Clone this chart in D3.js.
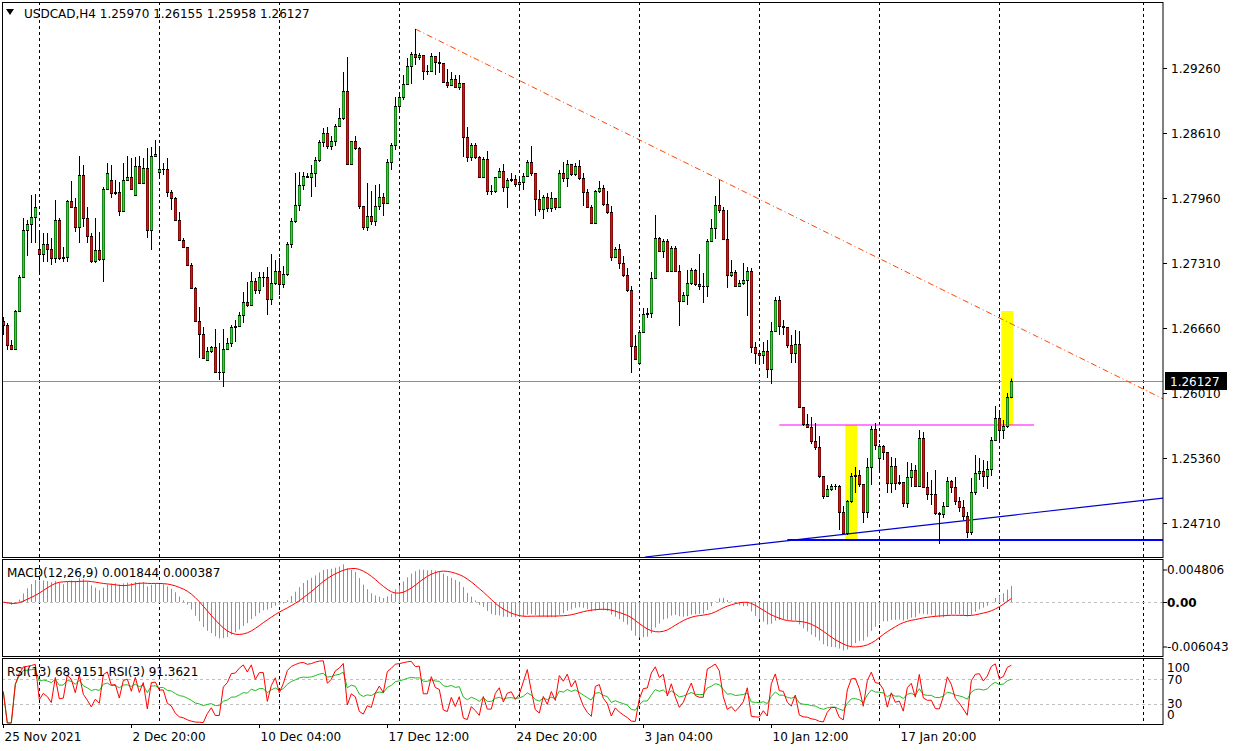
<!DOCTYPE html>
<html><head><meta charset="utf-8">
<script src="https://cdn.jsdelivr.net/npm/d3@7"></script>
<style>body{margin:0;background:#fff}svg{display:block}text{font-family:"DejaVu Sans",sans-serif;font-size:12px}</style>
</head><body><svg id="c" width="1235" height="751"></svg>
<script>
// prices in pips above 1.0000 (e.g. 2669 = 1.2669)
const closePips = [2669,2649,2645,2683,2717,2764,2770,2777,2787,2740,2750,2745,2736,2774,2736,2737,2793,2787,2767,2819,2776,2758,2733,2744,2735,2805,2821,2801,2802,2783,2814,2817,2805,2828,2811,2826,2764,2838,2840,2825,2825,2802,2796,2774,2754,2747,2729,2706,2673,2660,2636,2643,2647,2622,2622,2645,2651,2667,2668,2679,2692,2689,2713,2704,2717,2717,2695,2711,2723,2710,2720,2750,2773,2789,2809,2818,2817,2821,2834,2852,2861,2848,2853,2868,2876,2903,2830,2853,2846,2788,2767,2778,2773,2788,2797,2791,2832,2849,2888,2897,2910,2928,2940,2937,2939,2923,2923,2938,2932,2931,2912,2909,2915,2907,2911,2857,2837,2849,2837,2817,2835,2803,2803,2817,2823,2807,2814,2815,2810,2812,2818,2832,2821,2795,2785,2797,2786,2796,2787,2821,2816,2830,2820,2828,2816,2802,2787,2771,2803,2806,2790,2782,2737,2745,2731,2719,2704,2648,2635,2662,2680,2681,2716,2756,2743,2753,2723,2746,2723,2693,2699,2711,2724,2710,2708,2708,2753,2766,2789,2784,2755,2719,2722,2708,2711,2714,2723,2647,2641,2639,2643,2625,2663,2694,2668,2667,2649,2641,2650,2587,2570,2567,2553,2547,2518,2498,2505,2508,2508,2482,2461,2493,2518,2519,2510,2482,2527,2565,2549,2548,2542,2511,2528,2511,2512,2491,2517,2524,2508,2556,2507,2500,2500,2481,2480,2488,2513,2507,2493,2487,2478,2462,2502,2521,2523,2518,2525,2554,2576,2564,2568,2597,2612.7];
const highPips = [2677,2671,2654,2684,2719,2776,2774,2799,2800,2761,2761,2761,2756,2794,2776,2747,2794,2813,2796,2838,2829,2787,2761,2776,2762,2807,2831,2829,2814,2812,2831,2838,2836,2837,2838,2836,2846,2847,2854,2845,2831,2836,2804,2797,2782,2756,2747,2731,2707,2687,2667,2647,2648,2665,2651,2665,2656,2669,2674,2682,2702,2712,2722,2716,2722,2722,2727,2740,2734,2736,2728,2752,2776,2821,2822,2822,2821,2829,2837,2854,2866,2867,2858,2870,2886,2922,2937,2853,2858,2847,2788,2811,2803,2809,2810,2801,2835,2851,2897,2902,2919,2936,2942,2965,2941,2938,2929,2941,2938,2942,2931,2925,2922,2919,2919,2911,2867,2851,2851,2838,2837,2843,2809,2817,2826,2830,2816,2821,2819,2816,2821,2834,2848,2821,2804,2799,2801,2802,2796,2824,2832,2834,2829,2831,2834,2821,2805,2789,2804,2813,2809,2803,2788,2747,2750,2738,2726,2708,2659,2664,2686,2686,2722,2779,2757,2755,2755,2748,2748,2729,2702,2724,2726,2725,2740,2721,2755,2775,2798,2814,2787,2784,2734,2724,2714,2731,2727,2726,2652,2639,2652,2654,2672,2697,2698,2674,2667,2659,2664,2663,2587,2580,2577,2571,2558,2518,2509,2510,2510,2509,2488,2494,2521,2527,2524,2499,2536,2568,2571,2550,2549,2542,2537,2536,2519,2512,2532,2531,2529,2564,2562,2522,2514,2524,2482,2492,2517,2514,2517,2497,2494,2482,2516,2539,2536,2534,2533,2557,2588,2584,2574,2601,2615.5];
const lowPips = [2659,2644,2644,2644,2682,2716,2738,2751,2751,2720,2732,2732,2729,2731,2734,2732,2732,2786,2762,2751,2767,2751,2731,2731,2733,2712,2804,2796,2799,2778,2782,2814,2804,2798,2811,2810,2756,2744,2837,2816,2819,2797,2784,2773,2753,2747,2728,2705,2672,2636,2635,2634,2641,2621,2614,2607,2644,2647,2652,2667,2671,2687,2689,2700,2700,2707,2679,2689,2709,2699,2706,2718,2746,2771,2783,2804,2816,2797,2807,2832,2847,2845,2844,2848,2868,2874,2829,2829,2844,2785,2764,2763,2769,2768,2784,2778,2791,2824,2844,2882,2894,2910,2910,2929,2934,2914,2919,2924,2919,2921,2911,2906,2909,2906,2904,2837,2832,2833,2835,2816,2816,2799,2799,2801,2816,2802,2786,2812,2807,2804,2804,2817,2818,2778,2782,2775,2782,2782,2784,2786,2812,2807,2818,2818,2814,2788,2786,2770,2771,2801,2788,2780,2733,2737,2725,2717,2702,2621,2634,2629,2661,2676,2676,2716,2742,2736,2722,2723,2723,2668,2693,2689,2709,2708,2704,2691,2697,2752,2755,2781,2754,2706,2717,2707,2708,2709,2678,2641,2630,2630,2630,2616,2610,2663,2659,2659,2646,2631,2631,2586,2568,2566,2550,2544,2516,2495,2497,2503,2504,2464,2460,2459,2491,2501,2507,2471,2476,2509,2544,2524,2534,2501,2501,2504,2509,2487,2486,2507,2507,2507,2506,2494,2489,2479,2450,2476,2488,2501,2489,2482,2474,2456,2459,2499,2514,2507,2505,2518,2554,2551,2555,2566,2595.8];
const firstOpenPips = 2673;
const gapOpens = {9:2745, 27:2814, 33:2799, 39:2822, 51:2634, 159:2631, 219:2536}; // bar index -> open (pips)
const priceTicks = [1.29260,1.28610,1.27960,1.27310,1.26660,1.26010,1.25360,1.24710];
const timeLabels = ["25 Nov 2021","2 Dec 20:00","10 Dec 04:00","17 Dec 12:00","24 Dec 20:00","3 Jan 04:00","10 Jan 12:00","17 Jan 20:00"];
const timeLabelBars = [0,32,64,96,128,160,192,224];
const gridBars = [9,39,69,99,129,159,189,219,249,285];
const macdTicks = [0.004806,0,-0.006043];
const macdTickLabels = ["0.004806","0.00","-0.006043"];
const rsiTicks = [100,70,30,0];
const lastPrice = 1.26127;
const headerText = "USDCAD,H4  1.25970 1.26155 1.25958 1.26127";
const trendDown = [{bar:103,p:1.2965},{bar:290,p:1.2595}];
const trendUp = [{bar:160.4,p:1.2437},{bar:290,p:1.2496}];
const supportLevel = {from:196, to:290, p:1.2454};
const neckLevel = {from:194, to:257.7, p:1.2569};
const boxes = [{b0:211,b1:213,p0:1.2569,p1:1.2454},{b0:250,b1:252,p0:1.2683,p1:1.2569}];

const P = v => 1 + v/10000;
const C = closePips.map(P), H = highPips.map(P), L = lowPips.map(P);
const O = C.map((c,i)=> gapOpens[i]!==undefined ? P(gapOpens[i]) : (i===0 ? P(firstOpenPips) : C[i-1]));
const N = C.length;

const svg = d3.select("#c");
const W = 1163;
const main = {t:2, b:557}, mp = {t:559, b:656}, rp = {t:658, b:724};
const x = d3.scaleLinear().domain([0,252]).range([3.3,1011.3]);
const y = d3.scaleLinear().domain([1.2926,1.2471]).range([68,523]);

gridBars.forEach(g=>{
  [[main.t,main.b],[mp.t,mp.b],[rp.t,rp.b]].forEach(([a,b])=>{
    svg.append("line").attr("x1",Math.round(x(g))+.5).attr("x2",Math.round(x(g))+.5).attr("y1",a).attr("y2",b)
      .attr("stroke","#000").attr("stroke-dasharray","3,3");
  });
});

const gMain = svg.append("g");
svg.append("clipPath").attr("id","cm").append("rect").attr("x",2).attr("y",main.t).attr("width",W-2).attr("height",main.b-main.t);
gMain.attr("clip-path","url(#cm)");

gMain.append("line").attr("x1",2).attr("x2",W).attr("y1",Math.round(y(lastPrice))+.5).attr("y2",Math.round(y(lastPrice))+.5).attr("stroke","#909090");

boxes.forEach(b=>gMain.append("rect").attr("x",x(b.b0)-2).attr("width",x(b.b1)-x(b.b0)+4).attr("y",y(b.p0)).attr("height",y(b.p1)-y(b.p0)).attr("fill","#ffff00"));

gMain.append("line").attr("x1",x(supportLevel.from)).attr("x2",x(supportLevel.to)).attr("y1",y(supportLevel.p)).attr("y2",y(supportLevel.p)).attr("stroke","#0000ff").attr("stroke-width",2);
gMain.append("line").attr("x1",x(trendUp[0].bar)).attr("x2",x(trendUp[1].bar)).attr("y1",y(trendUp[0].p)).attr("y2",y(trendUp[1].p)).attr("stroke","#0000cc").attr("stroke-width",1.2);
gMain.append("line").attr("x1",x(neckLevel.from)).attr("x2",x(neckLevel.to)).attr("y1",y(neckLevel.p)).attr("y2",y(neckLevel.p)).attr("stroke","#ff00ff").attr("stroke-width",1.2);
gMain.append("line").attr("x1",x(trendDown[0].bar)).attr("y1",y(trendDown[0].p)).attr("x2",x(trendDown[1].bar)).attr("y2",y(trendDown[1].p))
  .attr("stroke","#ff4500").attr("stroke-dasharray","6,3,1,3");

for(let i=0;i<N;i++){
  const px = Math.round(x(i));
  const top = Math.max(O[i],C[i]), bot = Math.min(O[i],C[i]);
  gMain.append("line").attr("x1",px+.5).attr("x2",px+.5).attr("y1",y(Math.max(H[i],top))).attr("y2",y(Math.min(L[i],bot))).attr("stroke","#000");
  const yt = Math.round(y(top)), yb = Math.round(y(bot));
  if(yb-yt<1){
    gMain.append("line").attr("x1",px-1).attr("x2",px+2).attr("y1",yt+.5).attr("y2",yt+.5).attr("stroke","#000");
  } else {
    gMain.append("rect").attr("x",px-1).attr("width",3).attr("y",yt).attr("height",yb-yt+1).attr("fill","#000");
    if(yb-yt>1) gMain.append("rect").attr("x",px-0.6).attr("width",2.2).attr("y",yt+1).attr("height",yb-yt-1)
      .attr("fill",C[i]>=O[i]?"#22dd22":"#dd1111");
  }
}

function ema(arr,n){const k=2/(n+1);let e=arr[0];return arr.map((v,i)=> i===0? e : (e = v*k + e*(1-k)));}
const e12 = ema(C,12), e26 = ema(C,26);
const macd = C.map((_,i)=>e12[i]-e26[i]);
const sig = macd.map((_,i)=>{const a=macd.slice(Math.max(0,i-8),i+1);return d3.mean(a);});
const ym = d3.scaleLinear().domain([-0.006043,0.004806]).range([mp.b-1,mp.t+1]).clamp(true);
svg.append("line").attr("x1",2).attr("x2",W).attr("y1",Math.round(ym(0))+.5).attr("y2",Math.round(ym(0))+.5).attr("stroke","#c0c0c0").attr("stroke-dasharray","3,3");
macd.forEach((m,i)=>svg.append("line").attr("x1",Math.round(x(i))+.5).attr("x2",Math.round(x(i))+.5).attr("y1",ym(0)).attr("y2",ym(m)).attr("stroke","#55bb55"));
svg.append("path").attr("d",d3.line().x((d,i)=>x(i)).y(d=>ym(d))(sig)).attr("fill","none").attr("stroke","#ff0000");

function rsi(arr,n){let ag=0,al=0;const out=[50];for(let i=1;i<arr.length;i++){const d=arr[i]-arr[i-1];const g=Math.max(d,0),l=Math.max(-d,0);
  if(i<=n){ag+=g/n;al+=l/n;}else{ag=(ag*(n-1)+g)/n;al=(al*(n-1)+l)/n;}
  out.push(al===0?100:100-100/(1+ag/al));}return out;}
const r3 = rsi(C,3), r13 = rsi(C,13);
const yr = d3.scaleLinear().domain([0,100]).range([rp.b-1,rp.t+2]);
[70,30].forEach(v=>svg.append("line").attr("x1",2).attr("x2",W).attr("y1",Math.round(yr(v))+.5).attr("y2",Math.round(yr(v))+.5).attr("stroke","#c0c0c0").attr("stroke-dasharray","3,3"));
svg.append("path").attr("d",d3.line().x((d,i)=>x(i)).y(d=>yr(d))(r13)).attr("fill","none").attr("stroke","#22bb22");
svg.append("path").attr("d",d3.line().x((d,i)=>x(i)).y(d=>yr(d))(r3)).attr("fill","none").attr("stroke","#ff0000");

[[main.t,main.b],[mp.t,mp.b],[rp.t,rp.b]].forEach(([a,b])=>svg.append("rect").attr("x",2.5).attr("y",a+.5).attr("width",W-2.5).attr("height",b-a).attr("fill","none").attr("stroke","#000"));

priceTicks.forEach(p=>{
  const yy=Math.round(y(p))+.5;
  svg.append("line").attr("x1",W).attr("x2",W+4).attr("y1",yy).attr("y2",yy).attr("stroke","#000");
  svg.append("text").attr("x",W+8).attr("y",yy+4).text(p.toFixed(5));
});
const ly = Math.round(y(lastPrice));
svg.append("rect").attr("x",W+2).attr("y",ly-9).attr("width",62).attr("height",18).attr("fill","#000");
svg.append("text").attr("x",W+7).attr("y",ly+5).attr("fill","#fff").text(lastPrice.toFixed(5));

macdTicks.forEach((v,i)=>{
  const yy = i===0? 570 : i===1? Math.round(ym(0))+.5 : 647;
  svg.append("line").attr("x1",W).attr("x2",W+4).attr("y1",yy).attr("y2",yy).attr("stroke","#000");
  svg.append("text").attr("x",W+4).attr("y",yy+4).attr("font-weight",i===1?"bold":null).text(macdTickLabels[i]);
});
const rsiLabY = {100:668,70:680,30:704,0:715};
rsiTicks.forEach(v=>svg.append("text").attr("x",W+4).attr("y",rsiLabY[v]+4).text(v));

timeLabelBars.forEach((b,i)=>{
  const xx=Math.round(x(b))+.5;
  svg.append("line").attr("x1",xx).attr("x2",xx).attr("y1",rp.b).attr("y2",rp.b+4).attr("stroke","#000");
  svg.append("text").attr("x",xx+1).attr("y",741).text(timeLabels[i]);
});

svg.append("path").attr("d","M6,9 L14,9 L10,15 Z").attr("fill","#000");
svg.append("text").attr("x",24).attr("y",18).text(headerText);
svg.append("text").attr("x",7).attr("y",577).text("MACD(12,26,9) 0.001844 0.000387");
svg.append("text").attr("x",7).attr("y",676).text("RSI(13) 68.9151  RSI(3) 91.3621");
</script></body></html>
